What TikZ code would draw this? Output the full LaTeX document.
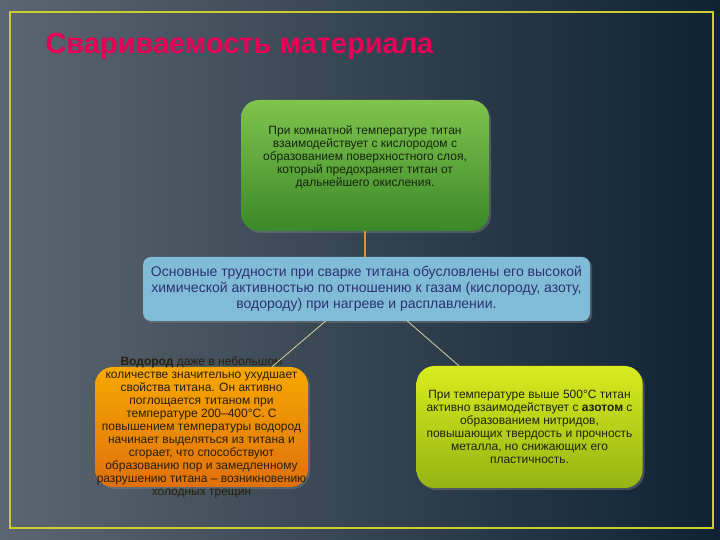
\documentclass[tikz,border=0pt]{standalone}
\usepackage{fontspec}
\setmainfont{Liberation Sans}
\usepackage{tikz}
\usetikzlibrary{shadows, calc}
\definecolor{bgleft}{RGB}{92,102,112}
\definecolor{bgright}{RGB}{14,34,52}
\definecolor{framey}{RGB}{205,205,45}
\definecolor{titlered}{RGB}{232,0,86}
\definecolor{linkpale}{RGB}{200,196,150}
\definecolor{linkorange}{RGB}{220,150,40}
\tikzstyle{card} = [rectangle, rounded corners=18pt, drop shadow={opacity=0.45, shadow xshift=2pt, shadow yshift=-2pt}]
\tikzstyle{cardtext} = [align=center, font=\fontsize{12}{13}\selectfont]
\tikzstyle{link} = [line width=0.9pt, draw=linkpale]

\begin{document}
\begin{tikzpicture}[x=1pt, y=1pt, node distance=138pt]
		% background and frame
		\shade [left color=bgleft, right color=bgright] (0,0) rectangle (720,540);
		\draw [framey, line width=1.5pt] (10,12) rectangle (713,528);
		\node (title) [anchor=west, text=titlered, font=\bfseries\fontsize{29}{32}\selectfont] at (42,494) {Свариваемость материала};

		\node (main) [card, rounded corners=8pt, fill={rgb,255:red,128;green,188;blue,216}, minimum width=447pt, minimum height=64pt] at (366.5,251) {};
		\node (maintext) [cardtext, text={rgb,255:red,46;green,50;blue,110}, font=\fontsize{14}{16}\selectfont] at (main) {Основные трудности при сварке титана обусловлены его высокой\\химической активностью по отношению к газам (кислороду, азоту,\\водороду) при нагреве и расплавлении.};

		\node (oxide) [card, above of=main, node distance=123.5pt, xshift=-1.5pt, top color={rgb,255:red,128;green,196;blue,78}, bottom color={rgb,255:red,58;green,136;blue,40}, minimum width=248pt, minimum height=131pt] {};
		\node (oxidetext) [cardtext, text={rgb,255:red,22;green,36;blue,14}] at ([yshift=8.5pt]oxide.center) {При комнатной температуре титан\\взаимодействует с кислородом с\\образованием поверхностного слоя,\\который предохраняет титан от\\дальнейшего окисления.};

		\node (hydro) [card, below of=main, xshift=-165pt, top color={rgb,255:red,247;green,168;blue,0}, bottom color={rgb,255:red,224;green,112;blue,12}, minimum width=213pt, minimum height=120pt] {};
		\node (hydrotext) [cardtext, text={rgb,255:red,40;green,30;blue,10}] at (hydro) {\textbf{Водород} даже в небольшом\\количестве значительно ухудшает\\свойства титана. Он активно\\поглощается титаном при\\температуре 200–400°С. С\\повышением температуры водород\\начинает выделяться из титана и\\сгорает, что способствуют\\образованию пор и замедленному\\разрушению титана – возникновению\\холодных трещин};

		\node (nitro) [card, below of=main, xshift=163pt, top color={rgb,255:red,216;green,236;blue,30}, bottom color={rgb,255:red,150;green,180;blue,20}, minimum width=226pt, minimum height=122pt] {};
		\node (nitrotext) [cardtext, text={rgb,255:red,30;green,36;blue,8}] at (nitro) {При температуре выше 500°С титан\\активно взаимодействует с \textbf{азотом} с\\образованием нитридов,\\повышающих твердость и прочность\\металла, но снижающих его\\пластичность.};

		\coordinate (mainL) at ($(main.south)+(-41,0)$);
		\coordinate (mainR) at ($(main.south)+(41,0)$);
		\draw [line width=1.2pt, linkorange] (oxide.south) -- (oxide.south |- main.north);
		\draw [link] (mainL) -- (hydro);
		\draw [link] (mainR) -- (nitro);
	\end{tikzpicture}
\end{document}
